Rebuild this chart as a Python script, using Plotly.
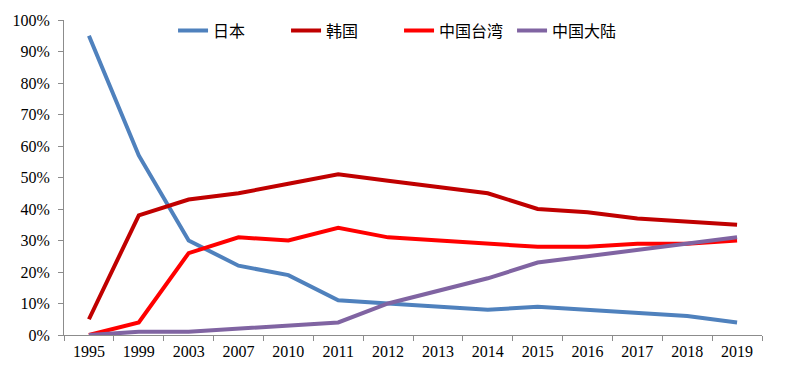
import plotly.graph_objects as go

years = ["1995", "1999", "2003", "2007", "2010", "2011", "2012", "2013", "2014", "2015", "2016", "2017", "2018", "2019"]
japan = [95, 57, 30, 22, 19, 11, 10, 9, 8, 9, 8, 7, 6, 4]
korea = [5, 38, 43, 45, 48, 51, 49, 47, 45, 40, 39, 37, 36, 35]
taiwan = [0, 4, 26, 31, 30, 34, 31, 30, 29, 28, 28, 29, 29, 30]
mainland = [0, 1, 1, 2, 3, 4, 10, 14, 18, 23, 25, 27, 29, 31]

series = [
    ("日本", japan, "#4F81BD"),
    ("韩国", korea, "#C00000"),
    ("中国台湾", taiwan, "#FF0000"),
    ("中国大陆", mainland, "#8064A2"),
]

fig = go.Figure()
for name, vals, color in series:
    fig.add_trace(go.Scatter(
        x=years, y=[v / 100 for v in vals], name=name, mode="lines",
        line=dict(color=color, width=4),
    ))

fig.update_layout(
    width=800, height=373,
    margin=dict(l=62, r=38, t=17, b=38),
    paper_bgcolor="white", plot_bgcolor="white",
    font=dict(family="Liberation Serif, Times New Roman, serif", size=16, color="black"),
    showlegend=True,
    legend=dict(
        orientation="h", x=0.48, xanchor="center", y=1.02, yanchor="top",
        font=dict(family="Noto Sans CJK SC", size=16, color="black"),
        bgcolor="rgba(0,0,0,0)", itemwidth=30, traceorder="normal",
        entrywidth=68, entrywidthmode="pixels",
    ),
)
fig.update_xaxes(
    type="category", range=[-0.5, 13.5], tickson="boundaries",
    showline=True, linecolor="#8c8c8c", linewidth=1,
    ticks="outside", ticklen=5, tickcolor="#8c8c8c",
    showgrid=False, zeroline=False, ticklabelstandoff=2,
    tickfont=dict(family="Liberation Serif", size=16, color="black"),
)
fig.update_yaxes(
    range=[0, 1], dtick=0.1, tickformat=".0%",
    showline=True, linecolor="#8c8c8c", linewidth=1,
    ticks="outside", ticklen=5, tickcolor="#8c8c8c",
    showgrid=False, zeroline=False, ticklabelstandoff=5,
    tickfont=dict(family="Liberation Serif", size=16, color="black"),
)

fig.write_html("out.html", config={"displayModeBar": False},
               post_script="document.body.style.margin='0';")
